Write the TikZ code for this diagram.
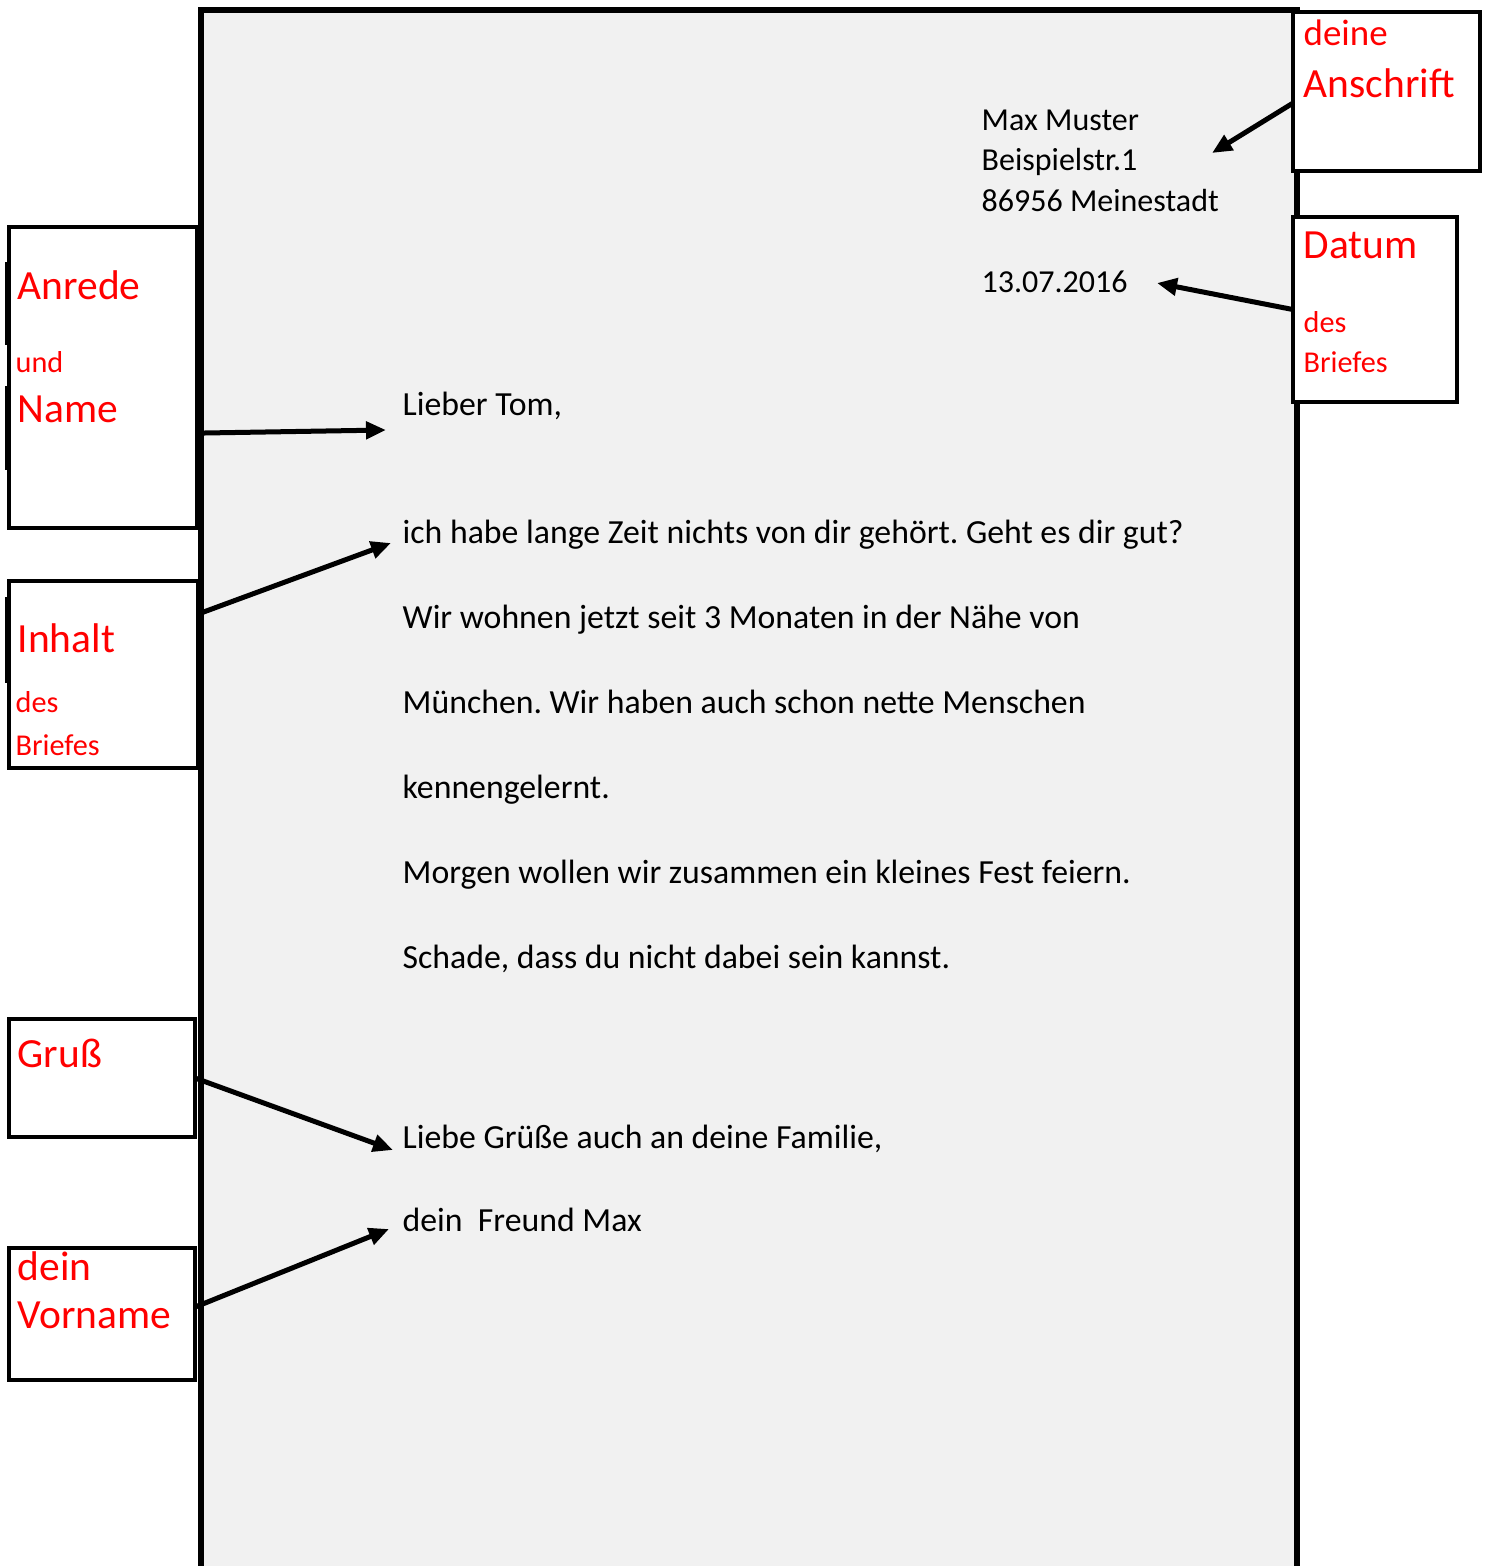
\documentclass[tikz,border=0pt]{standalone}
\usepackage{fontspec}
\setmainfont{Carlito}
\usetikzlibrary{arrows.meta}
\definecolor{papier}{HTML}{F1F1F1}
\definecolor{rotstift}{HTML}{FF0000}
\frenchspacing
\tikzset{>/.tip={Triangle[length=0.2cm,width=0.17cm]},
  feld/.style={draw, line width=0.04cm, fill=white, anchor=north west, outer sep=0pt, inner sep=0pt},
  gross/.style={text=rotstift, anchor=base west, inner sep=0pt, font=\fontsize{11.8}{14}\selectfont},
  mittel/.style={text=rotstift, anchor=base west, inner sep=0pt, font=\fontsize{10.5}{12}\selectfont},
  klein/.style={text=rotstift, anchor=base west, inner sep=0pt, font=\fontsize{8.6}{10}\selectfont},
  zeile/.style={anchor=base west, inner sep=0pt, font=\fontsize{9.6}{12}\selectfont},
  adresse/.style={anchor=base west, inner sep=0pt, font=\fontsize{9.1}{11}\selectfont},
  pfeil/.style={->, line width=0.05cm}}

\begin{document}
\begin{tikzpicture}[x=0.01cm, y=-0.01cm]
\useasboundingbox (0,0) rectangle (1488,1566);
\node[draw, fill=papier, line width=0.06cm, anchor=north west, outer sep=0pt,
      minimum width=10.95cm, minimum height=16cm] (brief) at (201,10) {};

\node[feld, minimum width=1.88cm, minimum height=3.01cm] (anrede)    at (9,227)   {};
\node[feld, minimum width=1.89cm, minimum height=1.87cm] (inhalt)    at (9,581)   {};
\node[feld, minimum width=1.86cm, minimum height=1.18cm] (gruss)     at (9,1019)  {};
\node[feld, minimum width=1.86cm, minimum height=1.32cm] (vorname)   at (9,1248)  {};
\node[feld, minimum width=1.87cm, minimum height=1.59cm] (anschrift) at (1293,12) {};
\node[feld, minimum width=1.64cm, minimum height=1.85cm] (datum)     at (1293,217) {};

\draw[line width=0.05cm] (8,262) -- (8,345) (8,386) -- (8,470) (8,597) -- (8,683);

\node[mittel] (deine)     at (1303,45)  {deine};
\node[gross] (anschriftT) at (1303,97)  {Anschrift};
\node[gross] (datumT)     at (1303,258) {Datum};
\node[klein] (desR)       at (1303,332) {des};
\node[klein] (briefesR)   at (1303,372) {Briefes};
\node[gross] (anredeT)    at (17,299)   {Anrede};
\node[klein] (und)        at (15,372)   {und};
\node[gross] (name)       at (17,422)   {Name};
\node[gross] (inhaltT)    at (17,652)   {Inhalt};
\node[klein] (desL)       at (15,712)   {des};
\node[klein] (briefesL)   at (15,755)   {Briefes};
\node[gross] (grussT)     at (17,1067)  {Gruß};
\node[gross] (dein)       at (17,1280)  {dein};
\node[gross] (vornameT)   at (17,1328)  {Vorname};

\node[adresse] (absender) at (981,130) {Max Muster};
\node[adresse] (strasse)  at (981,170) {Beispielstr.1};
\node[adresse] (ort)      at (981,211) {86956 Meinestadt};
\node[adresse] (tag)      at (981,292) {13.07.2016};
\node[zeile] (lieber)   at (402,415) {Lieber Tom,};
\node[zeile] (satz1)    at (402,543) {ich habe lange Zeit nichts von dir gehört. Geht es dir gut?};
\node[zeile] (satz2)    at (402,628) {Wir wohnen jetzt seit 3 Monaten in der Nähe von};
\node[zeile] (satz3)    at (402,713) {München. Wir haben auch schon nette Menschen};
\node[zeile] (satz4)    at (402,798) {kennengelernt.};
\node[zeile] (satz5)    at (402,883) {Morgen wollen wir zusammen ein kleines Fest feiern.};
\node[zeile] (satz6)    at (402,968) {Schade, dass du nicht dabei sein kannst.};
\node[zeile] (gruesse)  at (402,1148) {Liebe Grüße auch an deine Familie,};
\node[zeile] (freund)   at (402,1231) {dein\ \ Freund Max};

\coordinate (zielAnschrift) at (1212,153);
\coordinate (zielDatum)     at (1157,283);
\coordinate (zielAnrede)    at (386,430);
\coordinate (zielInhalt)    at (391,543);
\coordinate (zielGruss)     at (393,1150);
\coordinate (zielName)      at (389,1229);

\draw[pfeil] ([yshift=-0.115cm]anschrift.west) -- (zielAnschrift);
\draw[pfeil] (datum.west) -- (zielDatum);
\draw[pfeil] ([yshift=-0.555cm]anrede.east) -- (zielAnrede);
\draw[pfeil] ([yshift=0.605cm]inhalt.east) -- (zielInhalt);
\draw[pfeil] (gruss.east) -- (zielGruss);
\draw[pfeil] ([yshift=0.07cm]vorname.east) -- (zielName);
\end{tikzpicture}
\end{document}
